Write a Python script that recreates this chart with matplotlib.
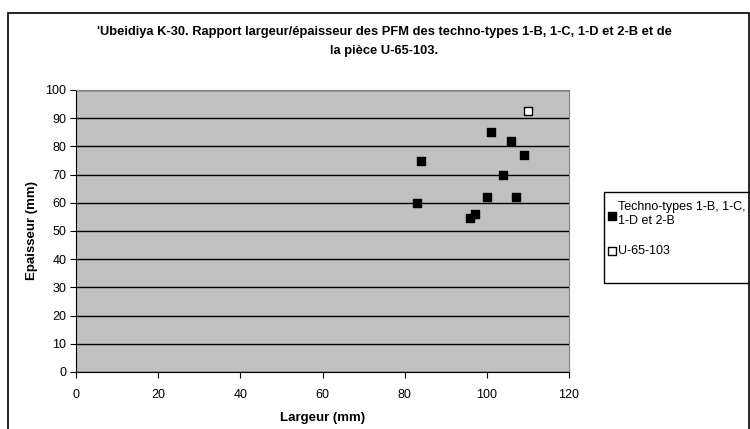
import matplotlib.pyplot as plt
from matplotlib.patches import Rectangle

plt.rcParams['font.family'] = ['Liberation Sans', 'DejaVu Sans']

# techno-types 1-B, 1-C, 1-D et 2-B
largeur = [83, 84, 96, 97, 100, 101, 104, 106, 107, 109]
epaisseur = [60, 75, 54.5, 56, 62, 85, 70, 82, 62, 77]
# piece U-65-103
largeur_u = [110]
epaisseur_u = [92.5]

W, H = 750, 429
fig = plt.figure(figsize=(7.5, 4.29), dpi=100)
ax = fig.add_axes([76/W, 1-372/H, (569-76)/W, (372-90)/H])

# outer chart frame
fig.patches.append(Rectangle((8/W, -0.05), (749-8)/W, 1.05-13/H,
                             transform=fig.transFigure, fill=False,
                             edgecolor='black', linewidth=1.2))
# legend frame (runs off the right edge like the original)
fig.patches.append(Rectangle((604/W, 1-283/H), 160/W, (283-192)/H,
                             transform=fig.transFigure, fill=False,
                             edgecolor='black', linewidth=1))

ax.set_facecolor('#C0C0C0')
ax.scatter(largeur, epaisseur, marker='s', s=40, color='black',
           label='Techno-types 1-B, 1-C,\n1-D et 2-B', zorder=3)
ax.scatter(largeur_u, epaisseur_u, marker='s', s=32, facecolor='white',
           edgecolor='black', linewidth=1, label='U-65-103', zorder=3)

ax.set_xlim(0, 120)
ax.set_ylim(0, 100)
ax.set_xticks(range(0, 121, 20))
ax.set_yticks(range(0, 101, 10))
ax.yaxis.grid(True, color='black', linewidth=1)
ax.set_axisbelow(True)
ax.tick_params(direction='out', length=4, labelsize=9, color='black')
ax.tick_params(axis='x', pad=8)
ax.tick_params(axis='y', pad=3)
for s in ['top', 'right']:
    ax.spines[s].set_color('#808080')
for s in ['left', 'bottom']:
    ax.spines[s].set_color('black')

ax.set_xlabel('Largeur (mm)', fontsize=9.5, fontweight='bold', labelpad=8)
ax.set_ylabel('Epaisseur (mm)', fontsize=9.5, fontweight='bold', labelpad=5)

fig.text(384/W, 1-41.5/H,
         "'Ubeidiya K-30. Rapport largeur/épaisseur des PFM des techno-types 1-B, 1-C, 1-D et 2-B et de\nla pièce U-65-103.",
         ha='center', va='center', fontsize=9.3, fontweight='bold', linespacing=1.8)

leg = fig.legend(loc='upper left', bbox_to_anchor=(604/W, 1-199/H),
                 borderaxespad=0, fontsize=9, frameon=False,
                 handletextpad=0.1, handlelength=0.8, labelspacing=1.4,
                 borderpad=0.2)

fig.savefig('out.png', dpi=100)
